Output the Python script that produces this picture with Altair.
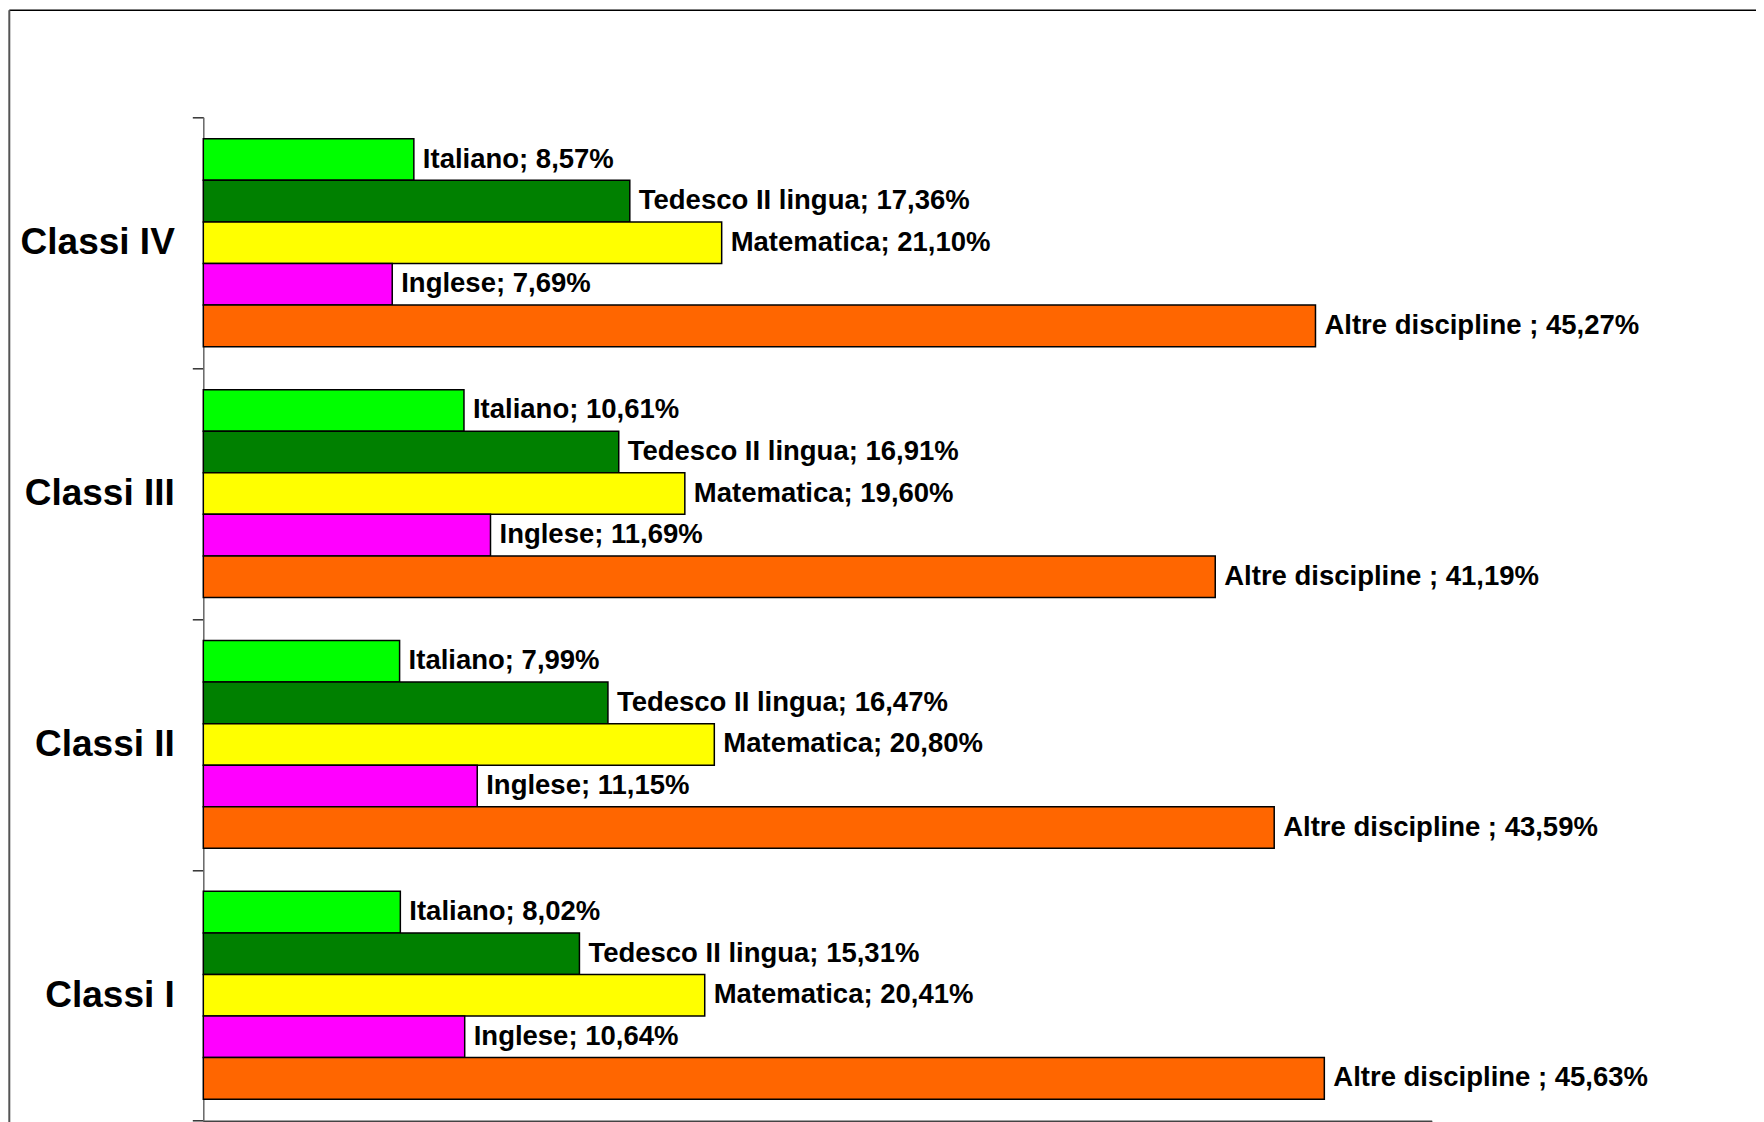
import altair as alt
import pandas as pd

# ---- data ----
classes = ["Classi IV", "Classi III", "Classi II", "Classi I"]
subjects = ["Italiano", "Tedesco II lingua", "Matematica", "Inglese", "Altre discipline"]
label_prefix = ["Italiano", "Tedesco II lingua", "Matematica", "Inglese", "Altre discipline "]
colors = ["#00FF00", "#008000", "#FFFF00", "#FF00FF", "#FF6600"]

italiano = [8.57, 10.61, 7.99, 8.02]
tedesco = [17.36, 16.91, 16.47, 15.31]
matematica = [21.10, 19.60, 20.80, 20.41]
inglese = [7.69, 11.69, 11.15, 10.64]
altre = [45.27, 41.19, 43.59, 45.63]

series = [italiano, tedesco, matematica, inglese, altre]

rows = []
for s_idx, subj in enumerate(subjects):
    for c_idx, cls in enumerate(classes):
        v = series[s_idx][c_idx]
        rows.append({
            "Classe": cls,
            "Materia": subj,
            "Valore": v,
            "Etichetta": f"{label_prefix[s_idx]}; " + f"{v:.2f}".replace(".", ",") + "%",
        })
df = pd.DataFrame(rows)

W = 1228.4
H = 1003.4

y_enc = alt.Y(
    "Classe:N",
    sort=classes,
    scale=alt.Scale(paddingInner=0, paddingOuter=0),
    axis=alt.Axis(
        title=None,
        tickBand="extent",
        tickSize=11,
        tickColor="#333333",
        tickWidth=1.5,
        domainColor="#666666",
        domainWidth=1.5,
        labelFont="Liberation Sans",
        labelFontSize=37,
        labelFontWeight="bold",
        labelColor="#000000",
        labelPadding=18,
        grid=False,
    ),
)
yoff_enc = alt.YOffset(
    "Materia:N",
    sort=subjects,
    scale=alt.Scale(paddingInner=0, paddingOuter=0.517),
)
x_enc = alt.X(
    "Valore:Q",
    scale=alt.Scale(domain=[0, 50], nice=False),
    axis=alt.Axis(
        title=None,
        values=[0, 10, 20, 30, 40, 50],
        labels=False,
        grid=False,
        tickSize=8,
        tickColor="#333333",
        domainColor="#444444",
        domainWidth=1.5,
    ),
)

base = alt.Chart(df)

bars = base.mark_bar(stroke="#000000", strokeWidth=1.5).encode(
    x=x_enc,
    y=y_enc,
    yOffset=yoff_enc,
    color=alt.Color("Materia:N", scale=alt.Scale(domain=subjects, range=colors), legend=None),
)

labels = base.mark_text(
    align="left",
    baseline="middle",
    dx=9,
    font="Liberation Sans",
    fontSize=27.5,
    fontWeight="bold",
    color="#000000",
).encode(
    x=alt.X("Valore:Q"),
    y=alt.Y("Classe:N", sort=classes),
    yOffset=alt.YOffset("Materia:N", sort=subjects),
    text="Etichetta:N",
)

frame_df = pd.DataFrame({"k": [0]})
top_line = alt.Chart(frame_df).mark_rule(color="#000000", strokeWidth=1.5).encode(
    x=alt.value(-194), x2=alt.value(1560), y=alt.value(-107)
)
left_line = alt.Chart(frame_df).mark_rule(color="#555555", strokeWidth=2).encode(
    x=alt.value(-194), y=alt.value(-107), y2=alt.value(1030)
)

chart = alt.layer(top_line, left_line, bars, labels).properties(
    width=W,
    height=H,
    autosize=alt.AutoSizeParams(type="none"),
    padding={"left": 195.3, "top": 109.3, "right": 324, "bottom": 10},
).configure(
    background="#FFFFFF",
    view=alt.ViewConfig(strokeWidth=0, stroke="transparent"),
)

chart.save("out.html", embed_options={"renderer": "svg", "actions": False})
